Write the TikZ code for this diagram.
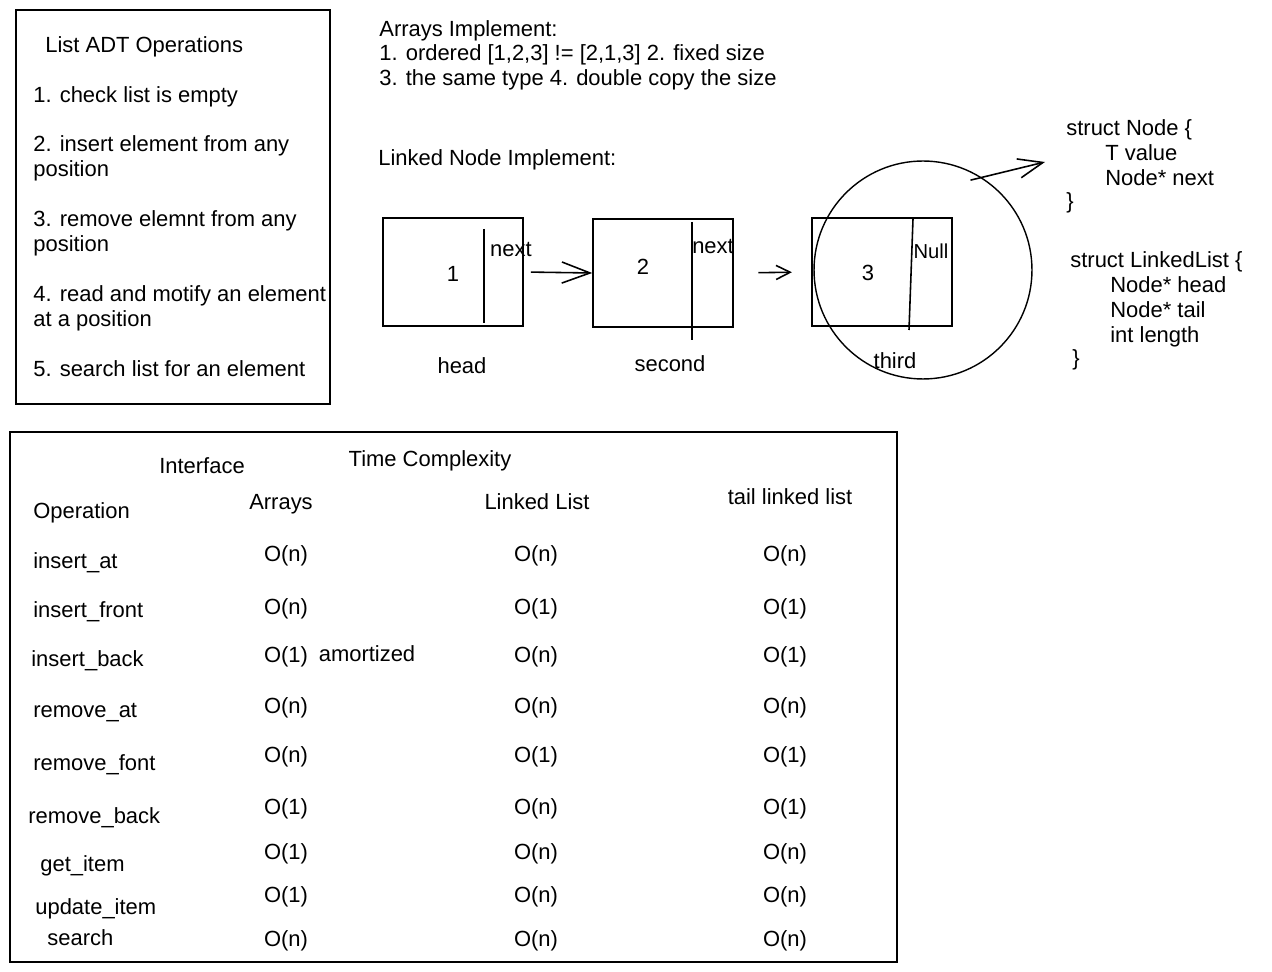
\documentclass[tikz,border=0pt]{standalone}
\usepackage{fontspec}
\setmainfont{Liberation Sans}
\usetikzlibrary{positioning}
\usetikzlibrary{arrows.meta}

\begin{document}
\begin{tikzpicture}[x=0.02cm,y=-0.02cm,
					txt/.style={inner sep=0pt, anchor=west, text height=11pt, text depth=1pt, font=\fontsize{12.5}{14}\selectfont},
					ctxt/.style={txt, anchor=center},
					panel/.style={draw=black, line width=0.9pt, inner sep=0pt},
					cell/.style={draw=black, line width=0.9pt, inner sep=0pt, minimum width=2.8cm, minimum height=2.16cm},
					link/.style={line width=0.9pt, -{Straight Barb[length=16pt,width=12pt]}},
					]
					\fill[white] (0,0) rectangle (1272,972);
					\useasboundingbox (0,0) rectangle (1272,972);
					
					%Operations panel
					\node[panel, minimum width=6.28cm, minimum height=7.88cm] (opsbox) at (173,207) {};
					\node[txt] (opstitle) at (45,44)  {List ADT Operations};
					\node[txt] (ops1)  at (33,94)  {1. check list is empty};
					\node[txt] (ops2a) at (33,143) {2. insert element from any};
					\node[txt] (ops2b) at (33,168) {position};
					\node[txt] (ops3a) at (33,218) {3. remove elemnt from any};
					\node[txt] (ops3b) at (33,243) {position};
					\node[txt] (ops4a) at (33,293) {4. read and motify an element};
					\node[txt] (ops4b) at (33,318) {at a position};
					\node[txt] (ops5)  at (33,368) {5. search list for an element};
					
					%Arrays notes
					\node[txt] (arrtitle) at (379,28) {Arrays Implement:};
					\node[txt] (arrline1) at (379,52) {1. ordered [1,2,3] != [2,1,3] 2. fixed size};
					\node[txt] (arrline2) at (379,77) {3. the same type 4. double copy the size};
					\node[txt] (lnktitle) at (378,157) {Linked Node Implement:};
					
					%Linked nodes
					\node[cell] (n1) at (453,272) {};
					\node[cell] (n2) at (663,273) {};
					\node[cell] (n3) at (882,272) {};
					\draw[line width=0.9pt] (484,229) -- (484,323);
					\draw[line width=0.9pt] (692,222) -- (692,340);
					\draw[line width=0.9pt] (913,219) -- (909,330);
					\node[ctxt] (v1) at (453,273) {1};
					\node[ctxt] (v2) at (643,266) {2};
					\node[ctxt] (v3) at (868,272) {3};
					\node[ctxt] (p1) at (511,248) {next};
					\node[ctxt] (p2) at (713,245) {next};
					\node[ctxt, font=\fontsize{11.5}{14}\selectfont] (p3) at (931,250) {Null};
					\node[ctxt] (lbl1) at (462,365) {head};
					\node[ctxt] (lbl2) at (670,363) {second};
					\node[ctxt] (lbl3) at (895,360) {third};
					\node[circle, draw=black, line width=0.8pt, inner sep=0pt, minimum size=4.36cm] (focus) at (923,270) {};
					
					%Structs
					\node[txt] (sn1) at (1066,127) {struct Node \{};
					\node[txt] (sn2) at (1105,152) {T value};
					\node[txt] (sn3) at (1105,177) {Node* next};
					\node[txt] (sn4) at (1066,200) {\}};
					\node[txt] (sl1) at (1070,259) {struct LinkedList \{};
					\node[txt] (sl2) at (1110,284) {Node* head};
					\node[txt] (sl3) at (1110,309) {Node* tail};
					\node[txt] (sl4) at (1110,334) {int length};
					\node[txt] (sl5) at (1072,357) {\}};
					\coordinate (structtip) at (1045,162);
					
					%Arrows
					\draw[link, shorten <=4pt] (n1.east) -- (n2.west);
					\draw[line width=0.9pt, -{Straight Barb[length=8pt,width=8pt]}, shorten <=14pt, shorten >=11pt] (n2.east) -- (n3.west);
					\draw[link, -{Straight Barb[length=14pt,width=11pt]}] ([shift={(-4,7)}]focus.62) -- (structtip);
					
					%Complexity table
					\node[panel, minimum width=17.74cm, minimum height=10.6cm] (cplxbox) at (453.5,697) {};
					\node[ctxt] (hiface) at (202,465) {Interface};
					\node[ctxt] (htime)  at (430,458) {Time Complexity};
					\node[txt]  (hop)    at (33,510)  {Operation};
					\node[ctxt] (harr)   at (281,501) {Arrays};
					\node[ctxt] (hll)    at (537,501) {Linked List};
					\node[ctxt] (htail)  at (790,496) {tail linked list};
					\foreach \op/\ox/\oy/\vy/\ca/\cb/\cc [count=\i] in {
						insert\_at/33/560/553/O(n)/O(n)/O(n),
						insert\_front/33/609/606/O(n)/O(1)/O(1),
						insert\_back/31/658/654/O(1)/O(n)/O(1),
						remove\_at/33/709/705/O(n)/O(n)/O(n),
						remove\_font/33/762/754/O(n)/O(1)/O(1),
						remove\_back/28/815/806/O(1)/O(n)/O(1),
						get\_item/40/863/851/O(1)/O(n)/O(n),
						update\_item/35/906/894/O(1)/O(n)/O(n),
						search/47/937/938/O(n)/O(n)/O(n)}
					{
						\node[txt]  (opname\i) at (\ox,\oy) {\op};
						\node[ctxt] (cxarr\i)  at (286,\vy) {\ca};
						\node[ctxt] (cxll\i)   at (536,\vy) {\cb};
						\node[ctxt] (cxtail\i) at (785,\vy) {\cc};
					}
					\node[ctxt] (amort) at (367,653) {amortized};
				\end{tikzpicture}
\end{document}
